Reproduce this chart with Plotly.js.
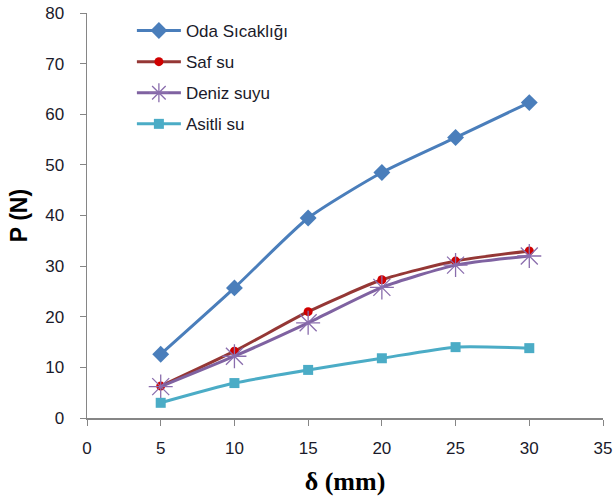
<!DOCTYPE html>
<html><head><meta charset="utf-8">
<script src="https://cdn.plot.ly/plotly-3.0.1.min.js"></script>
<style>body{margin:0;background:#fff}#c{width:614px;height:503px}</style>
</head><body><div id="c"></div>
<script>
const delta = [5, 10, 15, 20, 25, 30];
const odaSicakligi = [12.6, 25.7, 39.5, 48.5, 55.4, 62.3];
const safSu = [6.3, 13.2, 21.0, 27.3, 31.0, 33.0];
const denizSuyu = [6.2, 12.2, 18.8, 25.8, 30.2, 32.0];
const asitliSu = [3.0, 6.9, 9.5, 11.8, 14.0, 13.8];
const names = ["Oda Sıcaklığı", "Saf su", "Deniz suyu", "Asitli su"];

const traces = [
  {x: delta, y: odaSicakligi, name: names[0], legendgroup: 'a', mode: 'lines+markers', line: {color: '#4A7EBB', width: 3, shape: 'spline', smoothing: 0.6}, marker: {symbol: 'diamond', size: 13, color: '#4A7EBB'}},
  {x: delta, y: safSu, name: names[1], legendgroup: 'b', mode: 'lines+markers', line: {color: '#953735', width: 3, shape: 'spline', smoothing: 0.6}, marker: {symbol: 'circle', size: 9, color: '#D00000'}},
  {x: delta, y: denizSuyu, name: names[2], legendgroup: 'c', mode: 'lines+markers', line: {color: '#7F62A1', width: 3, shape: 'spline', smoothing: 0.6}, marker: {symbol: 'asterisk-open', size: 20, color: '#8A6DAD', line: {width: 1.3, color: '#8A6DAD'}}},
  {x: delta, y: asitliSu, name: names[3], legendgroup: 'd', mode: 'lines+markers', line: {color: '#4BACC6', width: 3, shape: 'spline', smoothing: 0.6}, marker: {symbol: 'square', size: 10, color: '#4BACC6'}}
];

const layout = {
  width: 614, height: 503,
  margin: {l: 87, r: 11, t: 13, b: 85},
  paper_bgcolor: '#fff', plot_bgcolor: '#fff',
  font: {family: 'Liberation Sans, Arial, sans-serif', size: 17, color: '#1a1a2a'},
  xaxis: {range: [0, 35], dtick: 5, tick0: 0, showgrid: false, zeroline: false, showline: true, linecolor: '#868686', linewidth: 1.5,
    ticks: 'outside', ticklen: 6, tickcolor: '#868686', tickfont: {size: 17}, ticklabelstandoff: 8,
    title: {text: 'δ (mm)', font: {family: 'Liberation Serif, Times New Roman, serif', size: 26, color: '#000', weight: 'bold'}, standoff: 15}},
  yaxis: {range: [0, 80], dtick: 10, tick0: 0, showgrid: false, zeroline: false, showline: true, linecolor: '#868686', linewidth: 1.5,
    ticks: 'outside', ticklen: 6, tickcolor: '#868686', tickfont: {size: 17}, ticklabelstandoff: 12,
    title: {text: 'P (N)', font: {family: 'Liberation Sans, Arial, sans-serif', size: 23, color: '#000', weight: 'bold'}, standoff: 11}},
  legend: {x: 0.087, y: 1.0, xanchor: 'left', yanchor: 'top', bgcolor: 'rgba(0,0,0,0)', font: {size: 17, color: '#1a1a2a'},
    traceorder: 'grouped', tracegroupgap: 6, itemwidth: 44},
  showlegend: true
};
Plotly.newPlot('c', traces, layout, {displayModeBar: false, staticPlot: true});
</script></body></html>
